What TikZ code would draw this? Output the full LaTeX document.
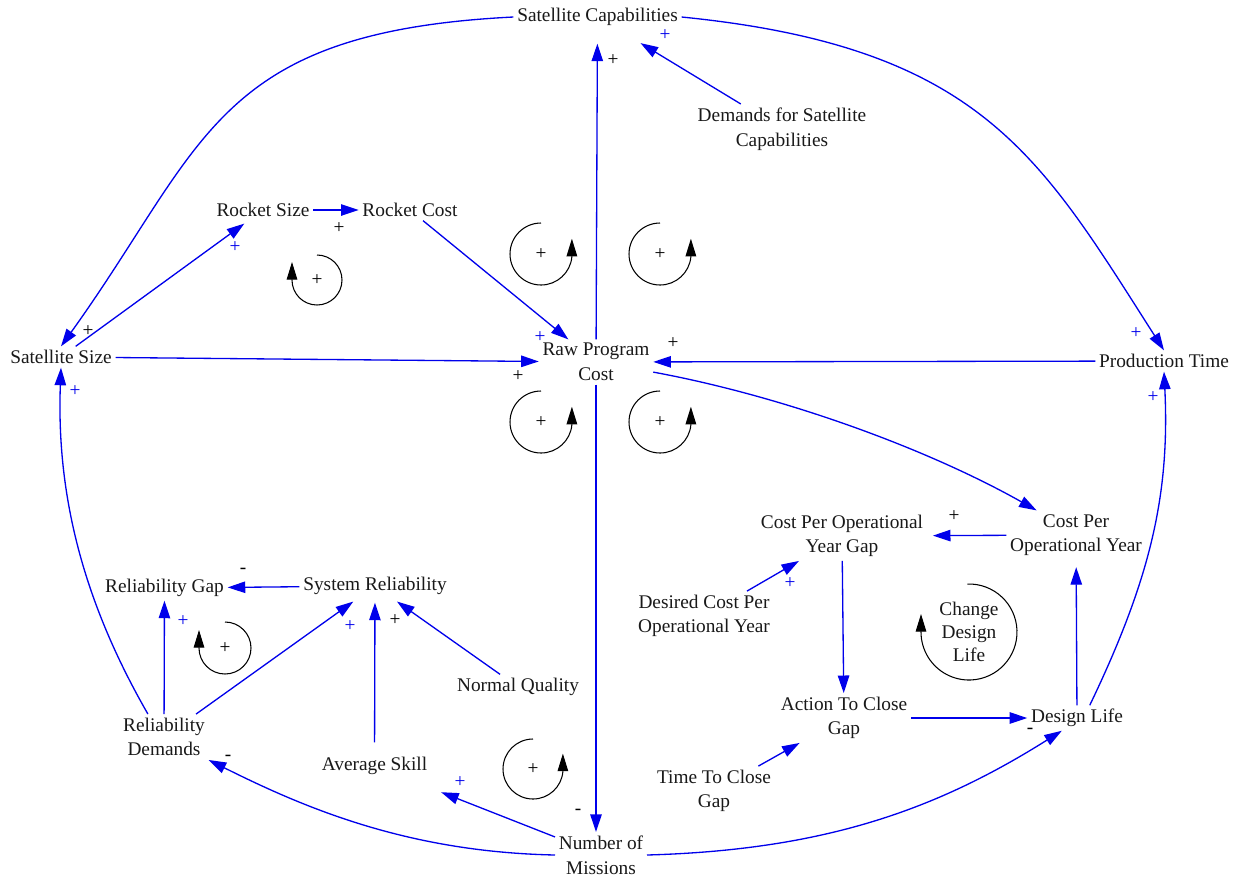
\documentclass[tikz,border=0pt]{standalone}
\usepackage{fontspec}
\setmainfont{Liberation Serif}
\usetikzlibrary{arrows.meta}
\definecolor{cblue}{RGB}{0,0,235}
\newcommand\dfont{\fontsize{11}{14}\selectfont}
\newcommand\cldR[3]{%
  \draw[loopc] (#1,-#2) ++(90:#3) arc[start angle=90,end angle=355,radius=#3] -- ++(0,18);
  \node[pol] at (#1,-#2) {+};}
\newcommand\cldL[3]{%
  \draw[loopc] (#1,-#2) ++(90:#3) arc[start angle=90,end angle=-180,radius=#3] -- ++(0,18);
  \node[pol] at (#1,-#2) {+};}
\tikzset{
  var/.style={align=center, inner sep=2pt, font=\dfont, text=black!90},
  link/.style={draw=cblue, line width=0.75pt, -{Triangle[length=10pt,width=6.5pt]}},
  loopc/.style={draw=black, line width=0.6pt, -{Triangle[length=10pt,width=6pt]}},
  pol/.style={font=\dfont, inner sep=0pt},
  polb/.style={pol, text=cblue},
}
\begin{document}
\begin{tikzpicture}[x=0.02cm,y=0.02cm]
\fill[white] (0,0) rectangle (1241,-880);
\useasboundingbox (0,0) rectangle (1241,-880);
% nodes
\node[var] (satcap) at (597.5,-17) {Satellite Capabilities};
\node[var] (demands) at (782,-129) {Demands for Satellite\\Capabilities};
\node[var] (rsize) at (263,-210) {Rocket Size};
\node[var] (rcost) at (410,-210) {Rocket Cost};
\node[var] (satsize) at (61,-357) {Satellite Size};
\node[var] (raw) at (596,-362) {Raw Program\\Cost};
\node[var] (prod) at (1164,-361) {Production Time};
\node[var] (cpoy) at (1076,-535) {Cost Per\\Operational Year};
\node[var] (gap) at (842,-536) {Cost Per Operational\\Year Gap};
\node[var] (desired) at (704,-616) {Desired Cost Per\\Operational Year};
\node[var] (rgap) at (164.5,-588) {Reliability Gap};
\node[var] (sysrel) at (375,-586) {System Reliability};
\node[var] (nq) at (518,-687) {Normal Quality};
\node[var] (rd) at (164,-737) {Reliability\\Demands};
\node[var] (askill) at (374.5,-766) {Average Skill};
\node[var] (action) at (844,-718) {Action To Close\\Gap};
\node[var] (dl) at (1077,-718) {Design Life};
\node[var] (ttc) at (714,-791) {Time To Close\\Gap};
\node[var] (nm) at (601,-855) {Number of\\Missions};
\node[var, font=\fontsize{11}{13.3}\selectfont] (cdl) at (969,-632) {Change\\Design\\Life};
% curved connectors
\draw[link] (satcap.west) .. controls +(-300,-15) and +(145,202) .. (satsize.north);
\draw[link] (satcap.east) .. controls +(300,-30) and +(-124,194) .. (prod.north);
\draw[link] (dl.45) .. controls +(60,125) and +(6,-124) .. (prod.south);
\draw[link] (nm.east) .. controls +(179,5) and +(-124,-78) .. (dl.-140);
\draw[link] (nm.west) .. controls +(-146,3) and +(98,-49) .. (rd.south east);
\draw[link] (rd.125) .. controls +(-61,106) and +(-5,-134) .. (satsize.south);
\draw[link] (raw.-10) .. controls +(130,-24) and +(-110,62) .. (cpoy.148);
% straight connectors
\draw[link, shorten >=0.28cm] (raw) -- (satcap);
\draw[link, shorten >=0.52cm] (demands) -- (satcap);
\draw[link, shorten >=0.1cm] (satsize) -- (rsize);
\draw[link] (rsize) -- (rcost);
\draw[link] (rcost) -- (raw);
\draw[link] (satsize) -- (raw);
\draw[link] (prod) -- (raw);
\draw[link] (raw.south) -- (raw.south |- nm.north);
\draw[link, shorten >=0.12cm] (cpoy) -- (gap);
\draw[link] (desired) -- (gap);
\draw[link] (gap) -- (action);
\draw[link] (action) -- (dl);
\draw[link] (ttc) -- (action);
\draw[link, shorten >=0.15cm] (dl) -- (cpoy);
\draw[link, shorten >=0.74cm] (nm) -- (askill);
\draw[link] (rd) -- (rgap);
\draw[link, shorten >=0.1cm] (rd) -- (sysrel);
\draw[link, shorten <=0.22cm, shorten >=0.08cm] (askill) -- (sysrel);
\draw[link, shorten >=0.1cm] (nq) -- (sysrel);
\draw[link] (sysrel) -- (rgap);
% loop symbols
\cldR{541}{254}{31}
\cldR{660}{254}{31}
\cldR{541}{422}{31}
\cldR{660}{422}{31}
\cldR{533}{769}{30}
\cldL{317}{280}{25}
\cldL{225}{648}{26}
\draw[loopc] (cdl.center) ++(92:48) arc[start angle=92,end angle=-180,radius=48] -- ++(0,18);
% polarities
\node[pol] at (613,-60) {+};
\node[pol] at (88,-331) {+};
\node[pol] at (339,-228) {+};
\node[pol] at (518,-376) {+};
\node[pol] at (673,-343) {+};
\node[pol] at (954,-516) {+};
\node[pol] at (395,-620) {+};
\node[pol] at (578,-812) {-};
\node[pol] at (1030,-731) {-};
\node[pol] at (228,-758) {-};
\node[pol] at (243,-571) {-};
\node[polb] at (665,-35) {+};
\node[polb] at (235,-247) {+};
\node[polb] at (540,-337) {+};
\node[polb] at (1136,-333) {+};
\node[polb] at (1153,-397) {+};
\node[polb] at (75,-391) {+};
\node[polb] at (790,-583) {+};
\node[polb] at (460,-782) {+};
\node[polb] at (183,-621) {+};
\node[polb] at (350,-626) {+};
\end{tikzpicture}
\end{document}
